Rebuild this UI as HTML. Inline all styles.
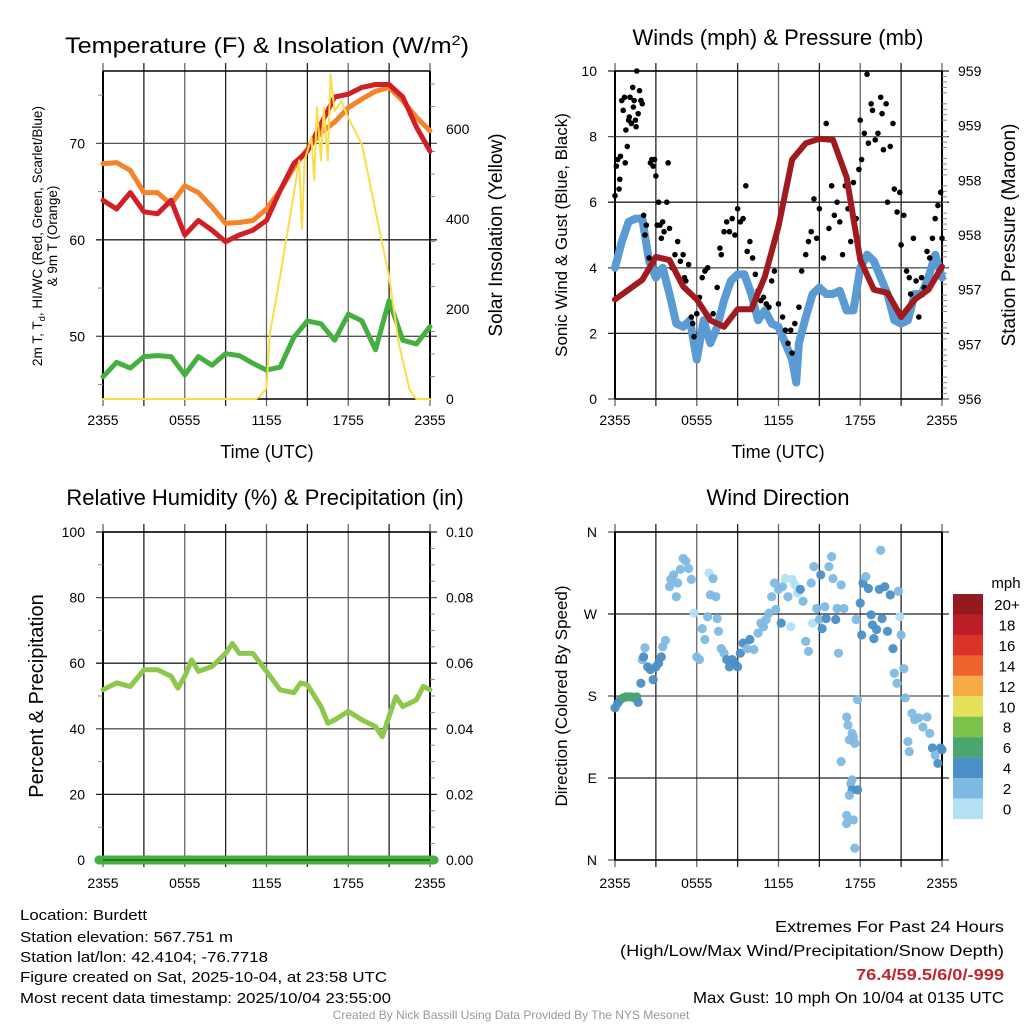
<!DOCTYPE html>
<html><head><meta charset="utf-8"><style>
html,body{margin:0;padding:0;background:#fff;}
svg{display:block;font-family:"Liberation Sans",Arial,sans-serif;}
</style></head><body>
<svg id="chart" width="1024" height="1024" viewBox="0 0 1024 1024" xmlns="http://www.w3.org/2000/svg">
<rect width="1024" height="1024" fill="#fff"/>
<!-- titles -->
<text x="267" y="53" font-size="22" text-anchor="middle" textLength="404" lengthAdjust="spacingAndGlyphs">Temperature (F) &amp; Insolation (W/m<tspan dy="-8" font-size="14">2</tspan><tspan dy="8">)</tspan></text>
<text x="778" y="45" font-size="22" text-anchor="middle">Winds (mph) &amp; Pressure (mb)</text>
<text x="265" y="505" font-size="22" text-anchor="middle">Relative Humidity (%) &amp; Precipitation (in)</text>
<text x="778" y="505" font-size="22" text-anchor="middle">Wind Direction</text>
<!-- axis titles -->
<text x="267" y="458" font-size="18" text-anchor="middle">Time (UTC)</text>
<text x="778" y="458" font-size="18" text-anchor="middle">Time (UTC)</text>
<text transform="translate(42,236) rotate(-90)" font-size="13.5" text-anchor="middle">2m T, T<tspan dy="3" font-size="9.5">d</tspan><tspan dy="-3">, HI/WC (Red, Green, Scarlet/Blue)</tspan></text>
<text transform="translate(57,236) rotate(-90)" font-size="13.5" text-anchor="middle">&amp; 9m T (Orange)</text>
<text transform="translate(502,235) rotate(-90)" font-size="19" text-anchor="middle">Solar Insolation (Yellow)</text>
<text transform="translate(567,235) rotate(-90)" font-size="17" text-anchor="middle">Sonic Wind &amp; Gust (Blue, Black)</text>
<text transform="translate(1015,235) rotate(-90)" font-size="19" text-anchor="middle">Station Pressure (Maroon)</text>
<text transform="translate(43,696) rotate(-90)" font-size="20" text-anchor="middle">Percent &amp; Precipitation</text>
<text transform="translate(567,696) rotate(-90)" font-size="17" text-anchor="middle">Direction (Colored By Speed)</text>
<!-- footer -->
<g font-size="15">
<text x="20" y="920" textLength="127" lengthAdjust="spacingAndGlyphs">Location: Burdett</text>
<text x="20" y="942" textLength="213" lengthAdjust="spacingAndGlyphs">Station elevation: 567.751 m</text>
<text x="20" y="962" textLength="248" lengthAdjust="spacingAndGlyphs">Station lat/lon: 42.4104; -76.7718</text>
<text x="20" y="982" textLength="367" lengthAdjust="spacingAndGlyphs">Figure created on Sat, 2025-10-04, at 23:58 UTC</text>
<text x="20" y="1003" textLength="371" lengthAdjust="spacingAndGlyphs">Most recent data timestamp: 2025/10/04 23:55:00</text>
</g>
<g font-size="16" text-anchor="end">
<text x="1004" y="932" textLength="229" lengthAdjust="spacingAndGlyphs">Extremes For Past 24 Hours</text>
<text x="1004" y="956" textLength="384" lengthAdjust="spacingAndGlyphs">(High/Low/Max Wind/Precipitation/Snow Depth)</text>
<text x="1004" y="980" fill="#c0262d" font-weight="bold" textLength="148" lengthAdjust="spacingAndGlyphs">76.4/59.5/6/0/-999</text>
<text x="1004" y="1003" textLength="311" lengthAdjust="spacingAndGlyphs">Max Gust: 10 mph On 10/04 at 0135 UTC</text>
</g>
<text x="511" y="1019" font-size="12" fill="#999" text-anchor="middle">Created By Nick Bassill Using Data Provided By The NYS Mesonet</text>
</svg>
<script>
// ---- data ----
const hours = [0,1,2,3,4,5,6,7,8,9,10,11,12,13,14,15,16,17,18,19,20,21,22,23,24];
const tempRed = [64.1,63.2,64.9,62.9,62.7,64.1,60.5,62,61,59.8,60.5,61,62,65.1,67.9,69.2,72,74.8,75.1,75.8,76.1,76.1,74.8,71.7,69.2];
const tempOrange = [67.9,68,67.2,64.9,64.9,63.7,65.6,64.9,63.4,61.7,61.8,62,63.2,65.1,67.5,69.4,71.1,72.2,73.7,74.6,75.4,75.8,74.4,72.7,71.3];
const dewGreen = [45.8,47.3,46.7,47.9,48,47.9,46,47.9,47,48.2,48,47.2,46.5,46.8,49.9,51.6,51.3,49.6,52.3,51.6,48.6,53.7,49.6,49.2,51];
const solarHours = [0,11.2,11.5,12,12.25,13,14,14.4,14.6,14.8,15.3,15.5,15.7,16,16.2,16.5,16.7,17,17.5,18,19,20,21,21.7,22.5,23,24];
const solarVals = [0,0,5,24,146,272,456,530,378,530,582,486,648,530,648,530,722,640,662,625,566,418,272,124,21,0,0];
const windHours = [0,0.5,1,1.5,2,2.5,3,3.5,4,4.5,5,5.5,6,6.5,7,7.5,8,8.5,9,9.5,10,10.5,11,11.5,12,12.5,13,13.3,13.5,14,14.5,15,15.5,16,16.5,17,17.5,18,18.5,19,19.5,20,20.5,21,21.5,22,22.5,23,23.5,24];
const windSpeed = [4.0,4.8,5.4,5.5,5.5,4.2,3.7,4.0,3.2,2.3,2.2,2.4,1.2,2.4,1.7,2.2,3.0,3.6,3.8,3.8,3.2,2.4,2.7,2.3,2.2,1.7,1.2,0.5,1.7,2.5,3.2,3.4,3.2,3.2,3.3,2.7,2.7,4.0,4.4,4.2,3.7,3.2,2.4,2.3,2.4,3.2,3.2,3.7,4.4,3.7];
const pressure = [956.91,957.0,957.09,957.3,957.27,957.03,956.91,956.72,956.66,956.82,956.82,957.12,957.58,958.19,958.34,958.38,958.37,958.03,957.27,957.0,956.97,956.75,956.91,957.0,957.21];
const gustHours = [0,0.1,0.2,0.3,0.35,0.4,0.5,0.6,0.7,0.75,0.8,0.9,1,1.05,1.1,1.2,1.3,1.35,1.4,1.5,1.55,1.6,1.7,1.8,1.9,2,2.1,2.2,2.3,2.5,2.6,2.7,2.8,2.9,3,3.1,3.2,3.3,3.4,3.5,3.6,3.8,3.9,4,4.2,4.4,4.6,4.8,5,5.1,5.2,5.4,5.6,5.7,5.8,6,6.2,6.4,6.6,6.8,7,7.2,7.5,7.7,7.8,8,8.2,8.4,8.6,8.8,9,9.2,9.4,9.6,9.7,9.9,10.1,10.3,10.5,10.7,10.9,11.1,11.3,11.5,11.7,12,12.3,12.5,12.7,12.9,13,13.2,13.5,13.7,14,14.2,14.4,14.6,14.8,15,15.3,15.5,15.7,15.9,16.1,16.3,16.5,16.7,16.9,17.1,17.3,17.5,17.7,17.9,18,18.1,18.3,18.5,18.6,18.8,18.9,19.1,19.3,19.5,19.6,19.7,19.9,20,20.2,20.4,20.5,20.7,20.9,21,21.2,21.4,21.6,21.7,21.9,22.1,22.3,22.5,22.7,22.9,23.1,23.3,23.5,23.7,23.9,24];
const gustVals = [6.2,7.1,7.3,6.4,6.7,7.4,9.1,8.8,9.2,7.2,8.2,7.7,8.5,8.6,9.2,8.4,9.5,8.9,9.1,8.5,8.3,10,8.7,9.4,9.1,9.0,5.6,5.0,5.3,4.3,7.2,7.3,7.1,7.3,6.8,5.3,6.0,5.3,4.9,5.4,5.1,6.0,7.2,5.2,4.0,4.4,4.8,4.2,4.4,3.7,3.6,4.1,2.5,2.3,1.9,2.6,3.1,3.7,3.9,4.0,2.4,2.6,3.4,4.6,4.4,5.1,5.4,5.1,5.5,5.0,5.8,5.4,5.5,6.5,4.5,4.8,4.3,3.8,3.3,3.0,3.1,2.9,2.8,3.6,3.9,2.9,2.5,2.1,1.7,2.1,1.4,2.3,2.8,3.9,4.4,4.8,5.1,6.1,4.9,5.8,4.3,8.4,5.2,6.5,5.6,6.0,5.4,4.4,6.5,5.8,4.8,6.6,5.5,7.0,8.5,7.3,8.1,9.9,7.8,9.0,8.8,7.9,8.1,9.2,8.7,7.6,9.0,6.0,7.7,8.4,6.4,5.7,6.3,4.7,5.6,3.9,3.7,3.2,4.9,3.6,2.5,3.7,3.4,4.5,4.3,4.9,5.5,5.9,6.3,4.9];
const rhHours = [0,1,2,3,4,5,5.5,6,6.5,7,8,9,9.5,10,11,12,13,14,14.5,15,16,16.5,17,18,19,20,20.5,21,21.5,22,23,23.5,24];
const rhVals = [51.9,54,52.9,58,58,56,52.4,56,61,57.5,59,63,66,63,63,57.5,51.9,51,54,53.4,46.8,41.7,42.7,45.3,42.7,40.7,37.6,43.8,49.8,46.8,48.8,52.9,51.9];
const precipVals = [0,0];
const dirHours = [0,0.2,0.4,0.6,0.8,1.0,1.2,1.4,1.6,1.7,1.9,2.0,2.1,2.2,2.4,2.6,2.8,3.0,3.2,3.4,3.5,3.7,4.0,4.1,4.3,4.5,4.6,4.8,5.0,5.2,5.4,5.6,5.8,6.0,6.2,6.4,6.6,6.8,6.9,7.0,7.2,7.4,7.5,7.6,7.8,8.0,8.2,8.4,8.6,8.8,9.0,9.2,9.4,9.7,9.9,10.2,10.5,10.7,10.9,11.1,11.3,11.5,11.7,11.8,12.0,12.2,12.3,12.5,12.7,12.9,13.0,13.2,13.4,13.6,13.8,14.0,14.2,14.4,14.5,14.6,14.8,15.0,15.1,15.2,15.4,15.5,15.7,15.9,16.0,16.2,16.3,16.4,16.6,16.8,17.0,17.1,17.2,17.4,17.5,17.6,16.6,17.3,17.4,17.2,17.0,17.0,17.5,17.6,17.8,17.4,17.8,17.7,18.0,18.1,18.2,18.4,18.6,18.8,18.9,19.0,19.2,19.4,19.5,19.6,19.8,20.0,20.2,20.4,20.5,20.7,20.8,20.9,21.0,21.2,21.3,21.5,21.6,21.8,22.0,22.3,22.6,22.9,23.1,23.3,23.5,23.7,23.9,24.0];
const dirDeg = [167,172,176,178,179,179,179,178,179,173,194,220,223,233,212,209,198,212,216,223,234,241,300,308,313,289,304,319,331,328,320,308,271,223,220,254,242,267,315,291,309,289,265,251,232,227,220,212,220,216,212,227,238,232,242,231,249,260,256,264,271,289,304,275,297,260,300,309,289,256,308,302,293,297,284,240,229,304,260,322,276,264,313,254,278,265,322,333,309,264,276,227,302,276,157,148,132,139,135,128,108,84,77,71,49,40,44,13,77,88,176,264,282,247,304,311,298,269,258,243,253,297,340,265,300,251,291,232,205,194,295,267,247,210,178,130,119,161,154,156,146,157,139,123,115,106,123,121];
const dirSpeed = [5,5,5,7,7,7,7,7,7,5,5,3,5,3,5,5,5,5,5,5,3,3,3,3,3,3,3,3,3,3,3,3,1,3,3,3,3,3,1,3,3,3,3,3,3,3,5,5,5,5,5,5,5,3,5,3,3,3,3,3,3,3,3,3,3,5,3,1,3,1,1,1,1,5,3,3,3,3,1,3,3,3,5,5,3,5,3,3,3,5,3,3,3,3,3,3,3,3,3,3,3,3,5,3,3,3,3,3,5,3,3,3,5,5,5,3,5,5,5,5,5,5,3,5,5,5,5,5,3,3,3,1,3,3,3,3,3,3,3,3,3,3,3,5,3,5,5,5,3,3];
const tempTicks = [50,60,70];
const solarTicks = [0,200,400,600];
const windTicks = [0,2,4,6,8,10];
const pressTickLabels = ["956","957","957","958","958","959","959"];
const rhTicks = [0,20,40,60,80,100];
const precipTickLabels = ["0.00","0.02","0.04","0.06","0.08","0.10"];
const dirTickLabels = ["N","E","S","W","N"];
const timeLabels = ["2355","0555","1155","1755","2355"];
const cbLabels = ["20+","18","16","14","12","10","8","6","4","2","0"];
const cbColors = ["#931a1d","#bd1f26","#dc3329","#f0622d","#f6a945","#e5e05a","#7bc24a","#4aa56e","#4a8fc6","#7eb9e3","#b3e0f5"];

const NS = "http://www.w3.org/2000/svg";
const svg = document.getElementById('chart');
function mk(parent, tag, attrs, name) {
  const el = document.createElementNS(NS, tag);
  for (const k in attrs) el.setAttribute(k, attrs[k]);
  
  
  parent.appendChild(el);
  return el;
}
function txt(parent, x, y, s, size, anchor, name) {
  const t = mk(parent, 'text', {x: x, y: y, 'font-size': size, 'text-anchor': anchor}, name);
  t.textContent = s;
  return t;
}
function panel(x0, y0, name) {
  const W = 327, H = 328;
  const g = mk(svg, 'g', {}, name);
  const sx = h => x0 + h / 24 * W;
  return {g, x0, y0, W, H, sx};
}
function frame(p, hLines, timeLabelY) {
  const g = mk(p.g, 'g', {}, 'grid');
  for (let i = 0; i <= 8; i++) {
    const x = p.sx(i * 3);
    mk(g, 'line', {x1: x, x2: x, y1: p.y0 - 8, y2: p.y0 + p.H + 7, stroke: i % 2 ? '#222' : '#666', 'stroke-width': 1.3}, 'vertical-gridline');
  }
  hLines.forEach((y, i) => {
    mk(g, 'line', {x1: p.x0 - 7, x2: p.x0 + p.W + 7, y1: y, y2: y, stroke: i % 2 ? '#222' : '#555', 'stroke-width': 1.3}, 'horizontal-gridline');
  });
  mk(g, 'line', {x1: p.x0, x2: p.x0, y1: p.y0, y2: p.y0 + p.H, stroke: '#000', 'stroke-width': 2}, 'left-axis-line');
  mk(g, 'line', {x1: p.x0 + p.W, x2: p.x0 + p.W, y1: p.y0, y2: p.y0 + p.H, stroke: '#000', 'stroke-width': 2}, 'right-axis-line');
  mk(g, 'line', {x1: p.x0, x2: p.x0 + p.W, y1: p.y0, y2: p.y0, stroke: '#000', 'stroke-width': 1.5}, 'top-axis-line');
  mk(g, 'line', {x1: p.x0, x2: p.x0 + p.W, y1: p.y0 + p.H, y2: p.y0 + p.H, stroke: '#000', 'stroke-width': 1.5}, 'bottom-axis-line');
  timeLabels.forEach((s, i) => txt(g, p.sx(i * 6), timeLabelY, s, 14, 'middle', 'x-tick-label'));
}
function minorTicks(p, side, ys) {
  ys.forEach(y => {
    const x = side === 'left' ? p.x0 : p.x0 + p.W;
    const d = side === 'left' ? -5 : 5;
    mk(p.g, 'line', {x1: x, x2: x + d, y1: y, y2: y, stroke: '#888', 'stroke-width': 1}, 'minor-tick');
  });
}
function path(p, xs, ys, sx, sy, color, w, name) {
  let d = '';
  xs.forEach((h, i) => { d += (i ? 'L' : 'M') + sx(h).toFixed(1) + ',' + sy(ys[i]).toFixed(1); });
  return mk(p.g, 'path', {d: d, fill: 'none', stroke: color, 'stroke-width': w, 'stroke-linejoin': 'round', 'stroke-linecap': 'round'}, name);
}

// ---- Panel 1: temperature ----
const p1 = panel(103, 71, 'temperature-panel');
const tY = v => 399 - (v - 43.5) / 34 * 328;
const sY = v => 399 - v / 729 * 328;
frame(p1, tempTicks.map(tY), 425);
tempTicks.forEach(v => txt(p1.g, 85, tY(v) + 5, String(v), 14, 'end', 'temp-tick-label'));
solarTicks.forEach(v => txt(p1.g, 446, sY(v) + 5, String(v), 14, 'start', 'solar-tick-label'));
minorTicks(p1, 'left', [45, 55, 65, 75].map(tY));
minorTicks(p1, 'right', [100, 300, 500, 700, 50, 150, 250, 350, 450, 550, 650].map(sY));
path(p1, hours, tempOrange, p1.sx, tY, '#f5832a', 5, 'series-9m-temperature');
path(p1, hours, tempRed, p1.sx, tY, '#d21f26', 5, 'series-2m-temperature');
path(p1, hours, dewGreen, p1.sx, tY, '#45b041', 5, 'series-dewpoint');
path(p1, solarHours, solarVals, p1.sx, sY, '#fbdd4a', 2, 'series-solar-insolation');

// ---- Panel 2: winds ----
const p2 = panel(615, 71, 'winds-panel');
const wY = v => 399 - v / 10 * 328;
const pY = v => 399 - (v - 956) / 3 * 328;
frame(p2, windTicks.map(wY), 425);
windTicks.forEach(v => txt(p2.g, 597, wY(v) + 5, String(v), 14, 'end', 'wind-tick-label'));
pressTickLabels.forEach((s, i) => txt(p2.g, 958, pY(956 + i * 0.5) + 5, s, 14, 'start', 'pressure-tick-label'));
minorTicks(p2, 'right', [0.1,0.2,0.3,0.4,0.6,0.7,0.8,0.9].flatMap(f => [0,1,2,3,4,5].map(k => pY(956 + k * 0.5 + f * 0.5))));
path(p2, windHours, windSpeed, p2.sx, wY, '#5a9bd3', 8, 'series-sonic-wind');
gustHours.forEach((h, i) => mk(p2.g, 'circle', {cx: p2.sx(h), cy: wY(gustVals[i]), r: 2.8, fill: '#000'}, 'gust-point'));
path(p2, hours, pressure, p2.sx, pY, '#a01a1f', 6, 'series-station-pressure');

// ---- Panel 3: RH ----
const p3 = panel(103, 532, 'humidity-panel');
const rY = v => 860 - v / 100 * 328;
const prY = v => 860 - v / 0.1 * 328;
frame(p3, rhTicks.map(rY), 888);
rhTicks.forEach(v => txt(p3.g, 85, rY(v) + 5, String(v), 14, 'end', 'rh-tick-label'));
precipTickLabels.forEach((s, i) => txt(p3.g, 446, rY(i * 20) + 5, s, 14, 'start', 'precip-tick-label'));
minorTicks(p3, 'left', [10, 30, 50, 70, 90].map(rY));
minorTicks(p3, 'right', [5,10,15,25,30,35,45,50,55,65,70,75,85,90,95].map(rY));
path(p3, rhHours, rhVals, p3.sx, rY, '#8bc84b', 5, 'series-relative-humidity');
path(p3, [-0.3, 24.3], precipVals, p3.sx, prY, '#45b041', 9, 'series-precipitation');
mk(p3.g, 'line', {x1: 103, x2: 430, y1: 860, y2: 860, stroke: '#1a5a1a', 'stroke-width': 1.2}, 'zero-line');

// ---- Panel 4: wind direction ----
const p4 = panel(615, 532, 'wind-direction-panel');
const dY = v => 860 - v / 360 * 328;
frame(p4, [0, 90, 180, 270, 360].map(dY), 888);
dirTickLabels.forEach((s, i) => txt(p4.g, 597, dY(i * 90) + 5, s, 14, 'end', 'direction-tick-label'));
function speedColor(s) {
  const idx = Math.max(0, Math.min(10, 10 - Math.floor(s / 2)));
  return cbColors[idx];
}
dirHours.forEach((h, i) => mk(p4.g, 'circle', {cx: p4.sx(h), cy: dY(dirDeg[i]), r: 4.6, fill: speedColor(dirSpeed[i]), 'fill-opacity': 0.95}, 'direction-point'));

// colorbar
const cb = mk(svg, 'g', {}, 'speed-colorbar');
txt(cb, 1006, 588, 'mph', 15, 'middle', 'colorbar-title');
cbColors.forEach((c, i) => {
  mk(cb, 'rect', {x: 953, y: 594 + i * 20.45, width: 30, height: 20.6, fill: c}, 'colorbar-swatch');
  txt(cb, 1007, 594 + i * 20.45 + 16, cbLabels[i], 15, 'middle', 'colorbar-label');
});
</script>
</body></html>
